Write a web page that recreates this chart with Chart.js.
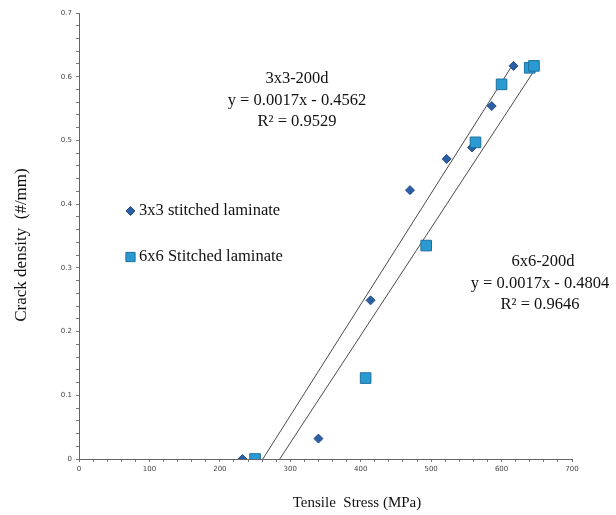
<!DOCTYPE html>
<html>
<head>
<meta charset="utf-8">
<script src="https://cdn.jsdelivr.net/npm/chart.js@4/dist/chart.umd.min.js"></script>
<style>
  html, body { margin: 0; padding: 0; background: #fff; }
  #wrap { width: 616px; height: 515px; position: relative; }
</style>
</head>
<body>
<div id="wrap"><canvas id="c" width="616" height="515"></canvas></div>
<script>
// ---- data ----
const stress3x3 = [232, 340, 414, 470, 522, 558, 586, 617];
const density3x3 = [0, 0.032, 0.249, 0.422, 0.471, 0.489, 0.554, 0.617];
const stress6x6 = [250, 407, 493, 563, 600, 640, 646];
const density6x6 = [0, 0.127, 0.335, 0.497, 0.588, 0.614, 0.617];
// trend line end points (as drawn)
const trend3x3X = [261, 617];
const trend3x3Y = [0, 0.621];
const trend6x6X = [285, 646];
const trend6x6Y = [0, 0.609];
const seriesNames = ["3x3 stitched laminate", "6x6 Stitched laminate"];
const annot3x3 = ["3x3-200d", "y = 0.0017x - 0.4562", "R² = 0.9529"];
const annot6x6 = ["6x6-200d", "y = 0.0017x - 0.4804", "R² = 0.9646"];
const xTitle = "Tensile  Stress (MPa)";
const yTitle = "Crack density  (#/mm)";

const toPts = (xs, ys) => xs.map((x, i) => ({x: x, y: ys[i]}));

const C3 = '#2C5EA3', C3b = '#244f8c';
const C6 = '#2A9AD3', C6b = '#1d6f9c';
const SERIF = '"Liberation Serif", "Times New Roman", serif';

const overlay = {
  id: 'overlay',
  afterDraw(chart) {
    const ctx = chart.ctx;
    ctx.save();
    ctx.fillStyle = '#111';
    ctx.textAlign = 'center';
    ctx.textBaseline = 'middle';
    ctx.font = '16.5px ' + SERIF;
    // annotations
    const a3y = [79, 101, 122];
    annot3x3.forEach((t, i) => ctx.fillText(t, 297, a3y[i]));
    const a6y = [262, 284, 305];
    const a6x = [543, 540, 540];
    annot6x6.forEach((t, i) => ctx.fillText(t, a6x[i], a6y[i]));
    // axis titles
    ctx.font = '15px ' + SERIF;
    ctx.fillText(xTitle, 357, 503);
    ctx.save();
    ctx.translate(22, 245);
    ctx.rotate(-Math.PI / 2);
    ctx.font = '17px ' + SERIF;
    ctx.fillText(yTitle, 0, 0);
    ctx.restore();
    // legend
    ctx.lineWidth = 1;
    ctx.fillStyle = C3; ctx.strokeStyle = C3b;
    Chart.helpers.drawPoint(ctx, {pointStyle: 'rectRot', radius: 4.5, borderWidth: 1}, 130.5, 211);
    ctx.fillStyle = C6; ctx.strokeStyle = C6b;
    Chart.helpers.drawPoint(ctx, {pointStyle: 'rect', radius: 6.5, borderWidth: 1}, 130.5, 257);
    ctx.fillStyle = '#111';
    ctx.font = '16.5px ' + SERIF;
    ctx.textAlign = 'left';
    ctx.fillText(seriesNames[0], 139, 211);
    ctx.fillText(seriesNames[1], 139, 257);
    ctx.restore();
  }
};

new Chart(document.getElementById('c'), {
  type: 'scatter',
  data: {
    datasets: [
      { label: 'trend 3x3', data: toPts(trend3x3X, trend3x3Y), showLine: true,
        borderColor: '#4a4a4a', borderWidth: 1, pointRadius: 0, order: 2 },
      { label: 'trend 6x6', data: toPts(trend6x6X, trend6x6Y), showLine: true,
        borderColor: '#4a4a4a', borderWidth: 1, pointRadius: 0, order: 2 },
      { label: seriesNames[0], data: toPts(stress3x3, density3x3), pointStyle: 'rectRot',
        pointRadius: 4.5, backgroundColor: C3, borderColor: C3b, borderWidth: 1, order: 1 },
      { label: seriesNames[1], data: toPts(stress6x6, density6x6), pointStyle: 'rect',
        pointRadius: 7.5, backgroundColor: C6, borderColor: C6b, borderWidth: 1, order: 0 }
    ]
  },
  options: {
    responsive: false,
    animation: false,
    devicePixelRatio: 1,
    layout: { padding: { left: 0, right: 44, top: 13, bottom: 0 } },
    plugins: { legend: { display: false }, tooltip: { enabled: false } },
    scales: {
      x: {
        type: 'linear', min: 0, max: 700,
        afterFit(s) { s.height = 56; },
        border: { color: '#666', width: 1 },
        grid: { drawOnChartArea: false, drawTicks: true, tickLength: 3, color: '#777' },
        ticks: {
          stepSize: 20, autoSkip: false, maxRotation: 0, padding: 3,
          color: '#444', font: { family: '"DejaVu Sans", sans-serif', size: 7 },
          callback: v => (Math.round(v) % 100 === 0 ? String(Math.round(v)) : '')
        }
      },
      y: {
        type: 'linear', min: 0, max: 0.7,
        afterFit(s) { s.width = 79; },
        border: { color: '#666', width: 1 },
        grid: { drawOnChartArea: false, drawTicks: true, tickLength: 3, color: '#777' },
        ticks: {
          stepSize: 0.02, autoSkip: false, padding: 4,
          color: '#444', font: { family: '"DejaVu Sans", sans-serif', size: 7 },
          callback: v => {
            const k = Math.round(v * 100);
            return k % 10 === 0 ? String(k / 100) : '';
          }
        }
      }
    }
  },
  plugins: [overlay]
});
</script>
</body>
</html>
